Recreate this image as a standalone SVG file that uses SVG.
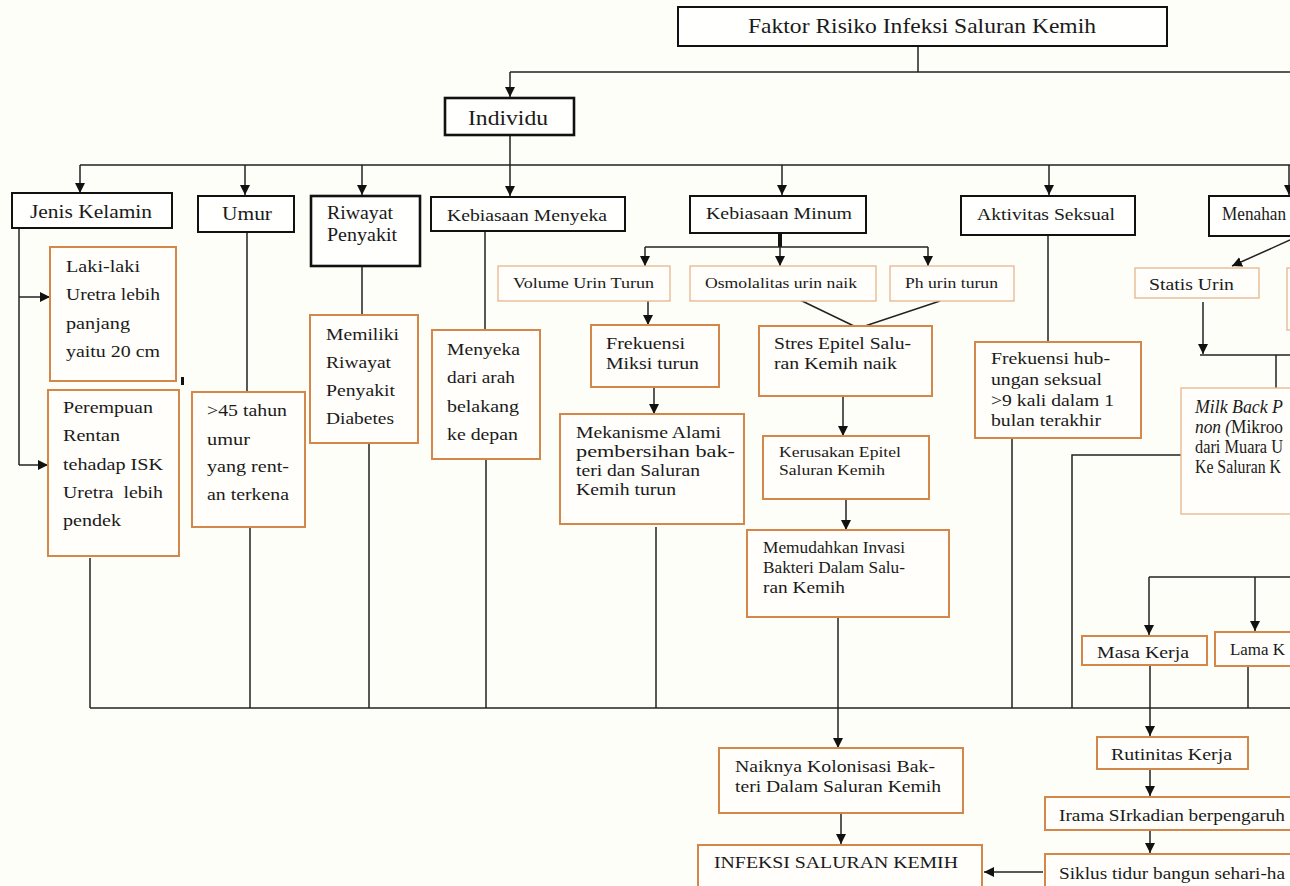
<svg xmlns="http://www.w3.org/2000/svg" width="1290" height="886" viewBox="0 0 1290 886">
<style>
.bg{fill:#fefef9}
.bk{fill:#fffffd;stroke:#111;stroke-width:2}
.bk3{fill:#fffffd;stroke:#111;stroke-width:2.6}
.or{fill:#fffefa;stroke:#d4874a;stroke-width:2}
.ol{fill:#fffefa;stroke:#e6b68e;stroke-width:1.3}
.c{fill:none;stroke:#222;stroke-width:1.5}
.ca{fill:none;stroke:#222;stroke-width:1.5;marker-end:url(#ah)}
text{font-family:"Liberation Serif","Times New Roman",serif;fill:#1a1a1a}
.t21{font-size:21px}
.t19{font-size:19px}
.t18{font-size:18px}
.t17{font-size:17px}
.t16{font-size:16px}
.t15{font-size:15px}
</style>
<defs>
<marker id="ah" markerWidth="12" markerHeight="12" refX="10" refY="5" orient="auto" markerUnits="userSpaceOnUse">
<path d="M0,0 L10,5 L0,10 z" fill="#111"/>
</marker>
</defs>
<rect class="bg" x="0" y="0" width="1290" height="886"/>

<g id="connectors">
<path class="c" d="M918,46 V72 M510,72 H1290"/>
<path class="ca" d="M510,72 V97"/>
<path class="c" d="M510,135 V165 M80,165 H1290"/>
<path class="ca" d="M80,165 V193"/>
<path class="ca" d="M245,165 V195"/>
<path class="ca" d="M362,165 V195"/>
<path class="ca" d="M510,165 V196"/>
<path class="ca" d="M782,165 V195"/>
<path class="ca" d="M1049,165 V195"/>
<path class="ca" d="M1289,165 V195"/>
<path class="c" d="M19,228 V465"/>
<path class="ca" d="M19,297 H50"/>
<path class="ca" d="M19,465 H48"/>
<rect x="181" y="377" width="3" height="8" fill="#111"/>
<path class="c" d="M90,558 V708"/>
<path class="c" d="M247,232 V392 M250,527 V708"/>
<path class="c" d="M362,266 V315 M369,443 V708"/>
<path class="c" d="M485,231 V330 M486,459 V708"/>
<path d="M780,233 V247" stroke="#111" stroke-width="4" fill="none"/>
<path class="c" d="M645,247 H928"/>
<path class="ca" d="M645,247 V266"/>
<path class="ca" d="M780,247 V266"/>
<path class="ca" d="M928,247 V266"/>
<path class="ca" d="M648,301 V325"/>
<path class="ca" d="M654,387 V414"/>
<path class="c" d="M656,527 V708"/>
<path class="c" d="M800,300 L856,327 M940,301 L862,327"/>
<path class="ca" d="M843,396 V436"/>
<path class="ca" d="M846,499 V530"/>
<path class="ca" d="M838,617 V748"/>
<path class="ca" d="M841,813 V844"/>
<path class="c" d="M1048,235 V342 M1012,438 V708"/>
<path class="ca" d="M1290,240 L1232,266"/>
<path class="ca" d="M1203,302 V354"/>
<path class="c" d="M1200,355 H1290 M1276,355 V388"/>
<path class="c" d="M1181,455 H1072 V708"/>
<path class="c" d="M90,708 H1290"/>
<path class="c" d="M1149,577 H1290"/>
<path class="ca" d="M1149,577 V635"/>
<path class="ca" d="M1255,577 V631"/>
<path class="ca" d="M1150,665 V736"/>
<path class="c" d="M1248,666 V708"/>
<path class="ca" d="M1150,769 V796"/>
<path class="ca" d="M1150,830 V853"/>
<path class="ca" d="M1043,872 H984"/>
</g>

<g id="n-faktor"><rect class="bk" x="678" y="7" width="489" height="39"/><text class="t21" x="748" y="33" textLength="348" lengthAdjust="spacingAndGlyphs">Faktor Risiko Infeksi Saluran Kemih</text></g>
<g id="n-individu"><rect class="bk3" x="445" y="98" width="129" height="37"/><text class="t21" x="468" y="125" textLength="80" lengthAdjust="spacingAndGlyphs">Individu</text></g>

<g id="n-jenis"><rect class="bk" x="12" y="193" width="160" height="35"/><text class="t19" x="30" y="218" textLength="122" lengthAdjust="spacingAndGlyphs">Jenis Kelamin</text></g>
<g id="n-umur"><rect class="bk" x="198" y="196" width="96" height="36"/><text class="t19" x="222" y="220" textLength="50" lengthAdjust="spacingAndGlyphs">Umur</text></g>
<g id="n-riwayat"><rect class="bk3" x="311" y="196" width="109" height="70"/><text class="t18" x="327" y="219" textLength="66" lengthAdjust="spacingAndGlyphs">Riwayat</text><text class="t18" x="327" y="241" textLength="70" lengthAdjust="spacingAndGlyphs">Penyakit</text></g>
<g id="n-menyeka"><rect class="bk" x="431" y="197" width="194" height="34"/><text class="t17" x="447" y="221" textLength="160" lengthAdjust="spacingAndGlyphs">Kebiasaan Menyeka</text></g>
<g id="n-minum"><rect class="bk" x="690" y="196" width="176" height="37"/><text class="t17" x="706" y="219" textLength="146" lengthAdjust="spacingAndGlyphs">Kebiasaan Minum</text></g>
<g id="n-aktivitas"><rect class="bk" x="961" y="196" width="174" height="39"/><text class="t17" x="977" y="220" textLength="138" lengthAdjust="spacingAndGlyphs">Aktivitas Seksual</text></g>
<g id="n-menahan"><rect class="bk" x="1209" y="196" width="90" height="40"/><text class="t18" x="1222" y="220" textLength="64" lengthAdjust="spacingAndGlyphs">Menahan</text></g>

<g id="n-laki"><rect class="or" x="50" y="247" width="126" height="134"/>
<text class="t17" x="66" y="272" textLength="74" lengthAdjust="spacingAndGlyphs">Laki-laki</text><text class="t17" x="66" y="300" textLength="94" lengthAdjust="spacingAndGlyphs">Uretra lebih</text><text class="t17" x="66" y="329" textLength="64" lengthAdjust="spacingAndGlyphs">panjang</text><text class="t17" x="66" y="357" textLength="94" lengthAdjust="spacingAndGlyphs">yaitu 20 cm</text></g>
<g id="n-perempuan"><rect class="or" x="48" y="390" width="131" height="166"/>
<text class="t17" x="63" y="413" textLength="90" lengthAdjust="spacingAndGlyphs">Perempuan</text><text class="t17" x="63" y="441" textLength="57" lengthAdjust="spacingAndGlyphs">Rentan</text><text class="t17" x="63" y="470" textLength="100" lengthAdjust="spacingAndGlyphs">tehadap ISK</text><text class="t17" x="63" y="498" textLength="100" lengthAdjust="spacingAndGlyphs" xml:space="preserve">Uretra  lebih</text><text class="t17" x="63" y="526" textLength="58" lengthAdjust="spacingAndGlyphs">pendek</text></g>
<g id="n-umur45"><rect class="or" x="192" y="392" width="113" height="135"/>
<text class="t17" x="207" y="416" textLength="80" lengthAdjust="spacingAndGlyphs">&gt;45 tahun</text><text class="t17" x="207" y="445" textLength="43" lengthAdjust="spacingAndGlyphs">umur</text><text class="t17" x="207" y="472" textLength="82" lengthAdjust="spacingAndGlyphs">yang rent-</text><text class="t17" x="207" y="500" textLength="82" lengthAdjust="spacingAndGlyphs">an terkena</text></g>
<g id="n-diabetes"><rect class="or" x="310" y="315" width="108" height="128"/>
<text class="t17" x="326" y="340" textLength="73" lengthAdjust="spacingAndGlyphs">Memiliki</text><text class="t17" x="326" y="368" textLength="65" lengthAdjust="spacingAndGlyphs">Riwayat</text><text class="t17" x="326" y="396" textLength="69" lengthAdjust="spacingAndGlyphs">Penyakit</text><text class="t17" x="326" y="424" textLength="68" lengthAdjust="spacingAndGlyphs">Diabetes</text></g>
<g id="n-arah"><rect class="or" x="432" y="330" width="108" height="129"/>
<text class="t17" x="447" y="355" textLength="73" lengthAdjust="spacingAndGlyphs">Menyeka</text><text class="t17" x="447" y="383" textLength="68" lengthAdjust="spacingAndGlyphs">dari arah</text><text class="t17" x="447" y="412" textLength="72" lengthAdjust="spacingAndGlyphs">belakang</text><text class="t17" x="447" y="440" textLength="71" lengthAdjust="spacingAndGlyphs">ke depan</text></g>

<g id="n-volume"><rect class="ol" x="498" y="266" width="172" height="35"/><text class="t15" x="513" y="288" textLength="141" lengthAdjust="spacingAndGlyphs">Volume Urin Turun</text></g>
<g id="n-osmo"><rect class="ol" x="690" y="266" width="186" height="35"/><text class="t15" x="705" y="288" textLength="152" lengthAdjust="spacingAndGlyphs">Osmolalitas urin naik</text></g>
<g id="n-ph"><rect class="ol" x="890" y="266" width="124" height="35"/><text class="t15" x="905" y="288" textLength="93" lengthAdjust="spacingAndGlyphs">Ph urin turun</text></g>
<g id="n-frekmiksi"><rect class="or" x="591" y="325" width="128" height="62"/>
<text class="t17" x="606" y="349" textLength="79" lengthAdjust="spacingAndGlyphs">Frekuensi</text><text class="t17" x="606" y="369" textLength="93" lengthAdjust="spacingAndGlyphs">Miksi turun</text></g>
<g id="n-mekanisme"><rect class="or" x="560" y="414" width="184" height="110"/>
<text class="t17" x="576" y="438" textLength="145" lengthAdjust="spacingAndGlyphs">Mekanisme Alami</text><text class="t17" x="576" y="457" textLength="159" lengthAdjust="spacingAndGlyphs">pembersihan bak-</text><text class="t17" x="576" y="476" textLength="124" lengthAdjust="spacingAndGlyphs">teri dan Saluran</text><text class="t17" x="576" y="495" textLength="100" lengthAdjust="spacingAndGlyphs">Kemih turun</text></g>
<g id="n-stres"><rect class="or" x="759" y="326" width="173" height="70"/>
<text class="t17" x="774" y="349" textLength="137" lengthAdjust="spacingAndGlyphs">Stres Epitel Salu-</text><text class="t17" x="774" y="369" textLength="123" lengthAdjust="spacingAndGlyphs">ran Kemih naik</text></g>
<g id="n-kerusakan"><rect class="or" x="763" y="436" width="166" height="63"/>
<text class="t15" x="779" y="457" textLength="122" lengthAdjust="spacingAndGlyphs">Kerusakan Epitel</text><text class="t15" x="779" y="475" textLength="106" lengthAdjust="spacingAndGlyphs">Saluran Kemih</text></g>
<g id="n-memudahkan"><rect class="or" x="747" y="530" width="202" height="87"/>
<text class="t17" x="763" y="553" textLength="142" lengthAdjust="spacingAndGlyphs">Memudahkan Invasi</text><text class="t17" x="763" y="573" textLength="142" lengthAdjust="spacingAndGlyphs">Bakteri Dalam Salu-</text><text class="t17" x="763" y="593" textLength="82" lengthAdjust="spacingAndGlyphs">ran Kemih</text></g>
<g id="n-naiknya"><rect class="or" x="719" y="748" width="244" height="65"/>
<text class="t17" x="735" y="772" textLength="200" lengthAdjust="spacingAndGlyphs">Naiknya Kolonisasi Bak-</text><text class="t17" x="735" y="792" textLength="206" lengthAdjust="spacingAndGlyphs">teri Dalam Saluran Kemih</text></g>
<g id="n-isk"><rect class="or" x="698" y="845" width="284" height="45"/><text class="t17" x="714" y="868" textLength="244" lengthAdjust="spacingAndGlyphs">INFEKSI SALURAN KEMIH</text></g>

<g id="n-frekseks"><rect class="or" x="975" y="342" width="166" height="96"/>
<text class="t17" x="991" y="364" textLength="119" lengthAdjust="spacingAndGlyphs">Frekuensi hub-</text><text class="t17" x="991" y="385" textLength="111" lengthAdjust="spacingAndGlyphs">ungan seksual</text><text class="t17" x="991" y="406" textLength="123" lengthAdjust="spacingAndGlyphs">&gt;9 kali dalam 1</text><text class="t17" x="991" y="426" textLength="110" lengthAdjust="spacingAndGlyphs">bulan terakhir</text></g>

<g id="n-statis"><rect class="ol" x="1135" y="268" width="124" height="30"/><text class="t17" x="1149" y="290" textLength="85" lengthAdjust="spacingAndGlyphs">Statis Urin</text></g>
<g id="n-box2"><rect class="ol" x="1287" y="268" width="20" height="62"/></g>
<g id="n-milk"><rect class="ol" x="1181" y="388" width="130" height="126"/>
<text class="t18" x="1195" y="413" textLength="88" lengthAdjust="spacingAndGlyphs"><tspan font-style="italic">Milk Back P</tspan></text>
<text class="t18" x="1195" y="433" textLength="88" lengthAdjust="spacingAndGlyphs"><tspan font-style="italic">non (</tspan>Mikroo</text>
<text class="t18" x="1195" y="453" textLength="88" lengthAdjust="spacingAndGlyphs">dari Muara U</text>
<text class="t18" x="1195" y="473" textLength="86" lengthAdjust="spacingAndGlyphs">Ke Saluran K</text></g>

<g id="n-masa"><rect class="or" x="1082" y="636" width="125" height="29"/><text class="t16" x="1097" y="658" textLength="92" lengthAdjust="spacingAndGlyphs">Masa Kerja</text></g>
<g id="n-lama"><rect class="or" x="1215" y="632" width="90" height="34"/><text class="t17" x="1230" y="655" textLength="55" lengthAdjust="spacingAndGlyphs">Lama K</text></g>
<g id="n-rutinitas"><rect class="or" x="1097" y="737" width="151" height="32"/><text class="t17" x="1111" y="760" textLength="121" lengthAdjust="spacingAndGlyphs">Rutinitas Kerja</text></g>
<g id="n-irama"><rect class="or" x="1045" y="797" width="260" height="33"/><text class="t17" x="1059" y="821" textLength="226" lengthAdjust="spacingAndGlyphs">Irama SIrkadian berpengaruh</text></g>
<g id="n-siklus"><rect class="or" x="1045" y="854" width="260" height="40"/><text class="t17" x="1059" y="879" textLength="226" lengthAdjust="spacingAndGlyphs">Siklus tidur bangun sehari-ha</text></g>
</svg>
